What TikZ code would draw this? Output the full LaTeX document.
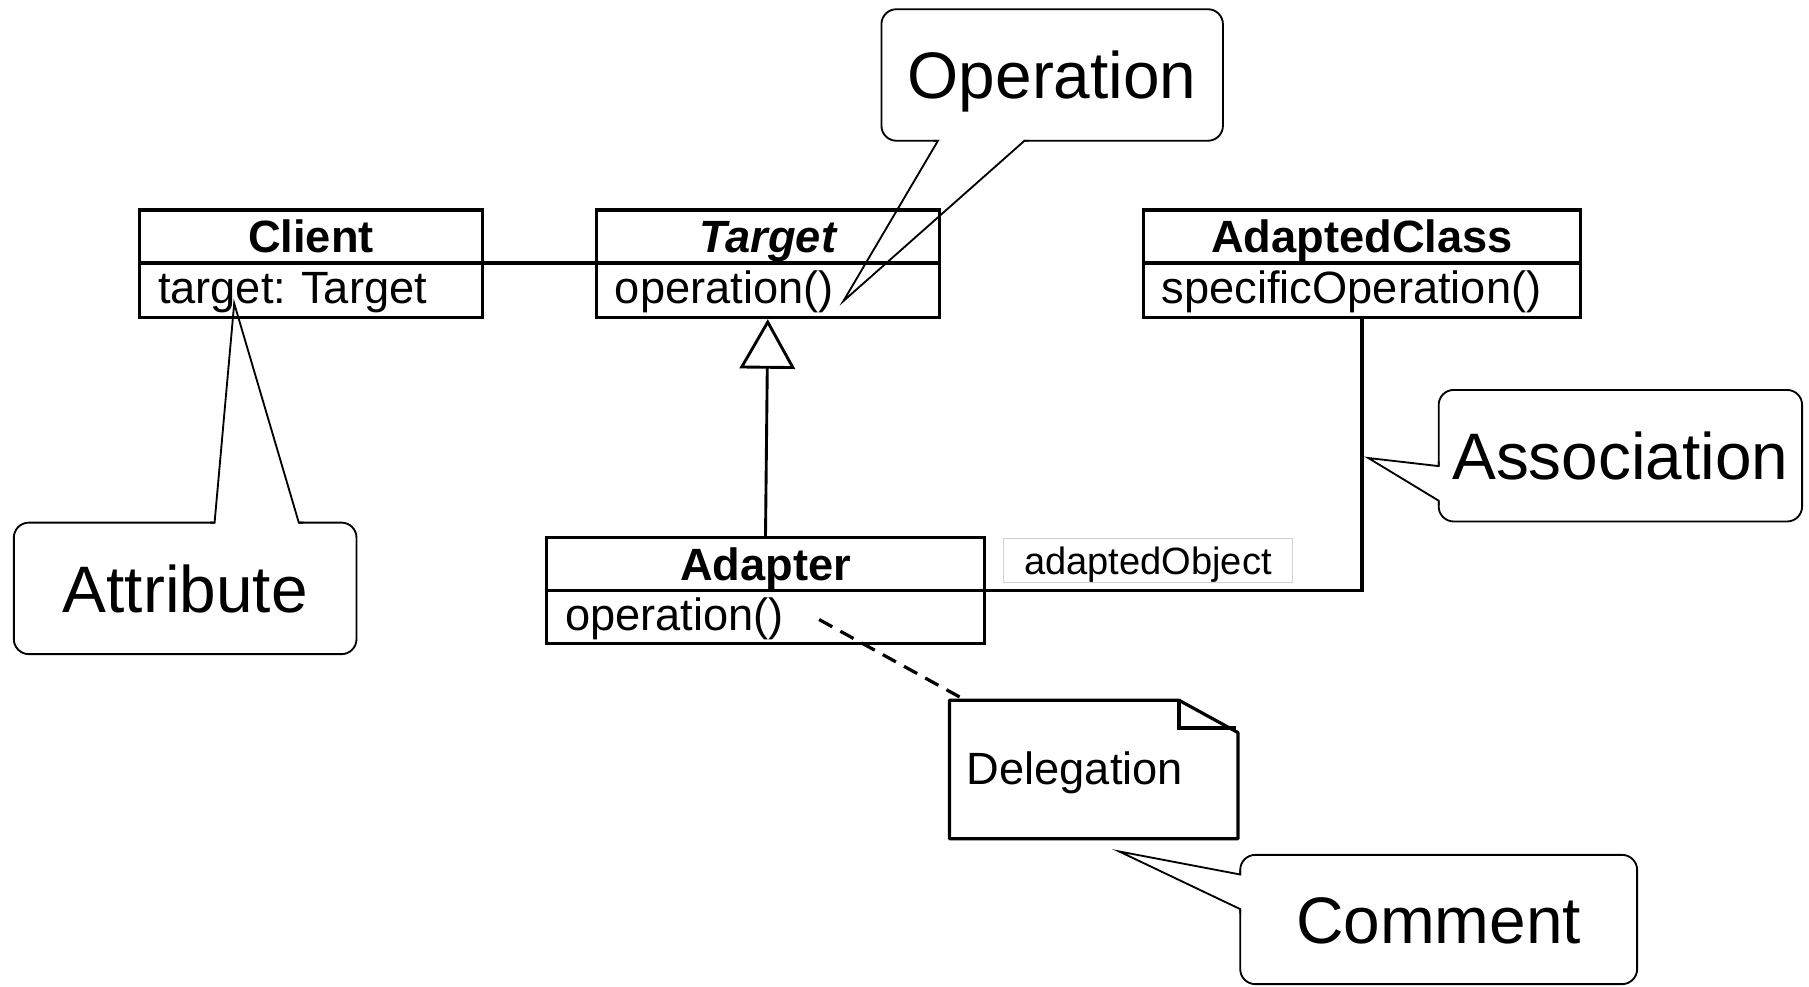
\documentclass[tikz,border=0pt]{standalone}
\usepackage{fontspec}
\setmainfont{Liberation Sans}
\usetikzlibrary{arrows.meta,calc}
\frenchspacing

\begin{document}
\begin{tikzpicture}[x=0.5pt,y=-0.5pt,
  classfont/.style={font=\fontsize{19.6}{23}\selectfont},
  classhead/.style={draw, line width=1.4pt, anchor=north west, minimum height=23pt,
    inner sep=0pt, outer sep=0pt, text height=14pt, text depth=0pt,
    font=\fontsize{19.6}{23}\selectfont\bfseries},
  classbody/.style={draw, line width=1.4pt, anchor=north west, minimum height=23.5pt,
    inner ysep=0pt, inner xsep=8pt, outer sep=0pt, align=left, text height=11.5pt,
    text depth=0pt, font=\fontsize{19.6}{23}\selectfont},
  callout/.style={draw, line width=0.8pt, rounded corners=6.5pt, fill=white,
    inner sep=2pt, outer sep=0pt, minimum height=57pt, text height=20.5pt, text depth=0pt,
    font=\fontsize{28.5}{34}\selectfont},
  pointer/.style={line width=0.8pt, line join=miter},
  eraser/.style={white, line width=1.8pt},
  link/.style={line width=1.5pt},
]
\useasboundingbox (0,0) rectangle (1568,855);

% ---------- classes ----------
\node[classhead, minimum width=148.5pt] (client) at (121,182) {Client};
\node[classbody, text width=132.5pt] (clientb) at (client.south west) {target: Target};

\node[classhead, minimum width=148.5pt] (target) at (517,182) {\itshape Target};
\node[classbody, text width=132.5pt] (targetb) at (target.south west) {operation()};

\node[classhead, minimum width=189.5pt] (adapted) at (991,182) {AdaptedClass};
\node[classbody, text width=173.5pt] (adaptedb) at (adapted.south west) {specificOperation()};

\node[classhead, minimum width=189.5pt] (adapter) at (474,466) {Adapter};
\node[classbody, text width=173.5pt, minimum height=23pt] (adapterb) at (adapter.south west) {operation()};

% ---------- relations ----------
\draw[link] (client.south east) -- (target.south west);
\draw[line width=1.25pt, -{Triangle[open, length=21.5pt, width=24pt]}]
  (adapter.north) -- ([yshift=-0.8pt]targetb.south);
\draw[link] (adapterb.north east) -| (adaptedb.south);

\node[draw=black!18, line width=0.5pt, minimum width=125pt, minimum height=19pt,
  inner sep=0pt, text height=11.8pt, text depth=0pt,
  font=\fontsize{16.5}{20}\selectfont] (role) at (995,486) {adaptedObject};

% ---------- note ----------
\node[anchor=north west, minimum width=125pt, minimum height=60pt, inner xsep=7.5pt,
  inner ysep=0pt, outer sep=0pt, text width=110pt, align=left, text height=13pt,
  text depth=0pt, classfont] (note) at (823,607) {Delegation};
\draw[line width=1.4pt, line join=round]
  (note.north west) -- ($(note.north east)+(-51,0)$) -- ($(note.north east)+(0,28)$)
  -- (note.south east) -- (note.south west) -- cycle;
\draw[line width=1.4pt]
  ($(note.north east)+(-51,0)$) -- ($(note.north east)+(-51,24)$) -- ($(note.north east)+(-2,24)$);

\coordinate (delegsrc) at (710,537);
\draw[line width=1.4pt, dash pattern=on 6.5pt off 4pt]
  (delegsrc) -- ($(note.north west)+(14,0)$);

% ---------- callouts ----------
\node[callout, minimum width=148pt] (opc) at (912,65) {Operation};
\coordinate (optip) at (731,261);
\draw[eraser] ($(opc.south west)+(49,0)$) -- ($(opc.south west)+(124,0)$);
\draw[pointer] ($(opc.south west)+(45,0)$) -- ($(opc.south west)+(49,0)$) -- (optip)
  -- ($(opc.south west)+(124,0)$) -- ($(opc.south west)+(128,0)$);

\node[callout, minimum width=148.5pt] (atc) at (160.5,510) {Attribute};
\coordinate (attip) at (203,263);
\draw[eraser] ($(atc.north west)+(174,0)$) -- ($(atc.north west)+(247,0)$);
\draw[pointer] ($(atc.north west)+(170,0)$) -- ($(atc.north west)+(174,0)$) -- (attip)
  -- ($(atc.north west)+(247,0)$) -- ($(atc.north west)+(251,0)$);

\node[callout, minimum width=157.5pt] (asc) at (1404.5,395) {Association};
\coordinate (astip) at (1186,397);
\draw[eraser] ($(asc.north west)+(0,66)$) -- ($(asc.north west)+(0,96)$);
\draw[pointer] ($(asc.north west)+(0,62)$) -- ($(asc.north west)+(0,66)$) -- (astip)
  -- ($(asc.north west)+(0,96)$) -- ($(asc.north west)+(0,100)$);

\node[callout, minimum width=172pt, minimum height=56pt] (cmc) at (1247,797) {Comment};
\coordinate (cmtip) at (970,738);
\draw[eraser] ($(cmc.north west)+(0,17)$) -- ($(cmc.north west)+(0,47)$);
\draw[pointer] ($(cmc.north west)+(0,13)$) -- ($(cmc.north west)+(0,17)$) -- (cmtip)
  -- ($(cmc.north west)+(0,47)$) -- ($(cmc.north west)+(0,51)$);
\end{tikzpicture}
\end{document}
